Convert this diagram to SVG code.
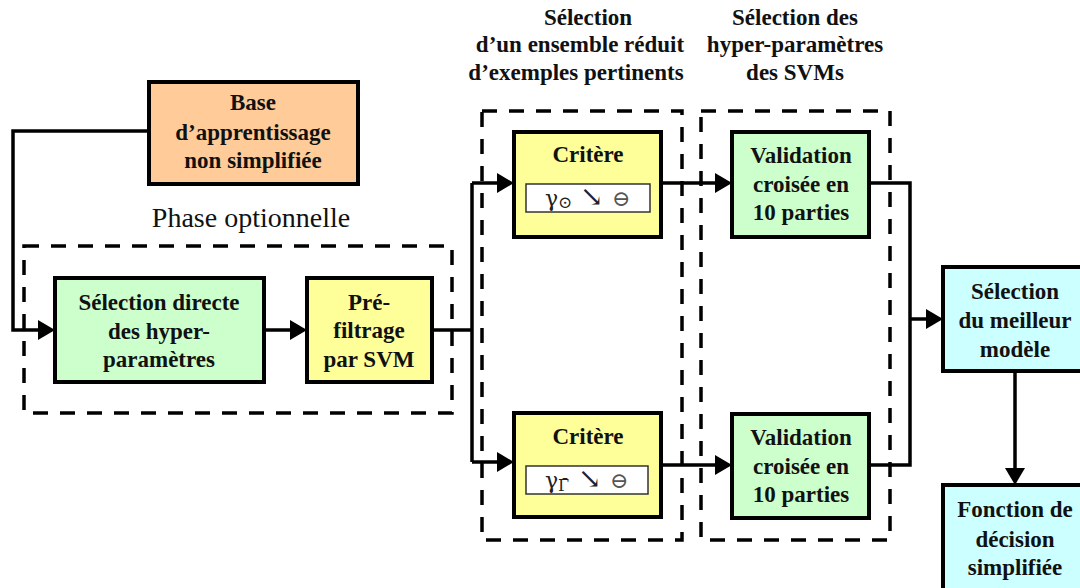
<svg xmlns="http://www.w3.org/2000/svg" width="1080" height="588" viewBox="0 0 1080 588">
<defs>
<style>
.box{stroke:#000;stroke-width:4}
.dash{fill:none;stroke:#000;stroke-width:3.5;stroke-dasharray:15 12}
.con{fill:none;stroke:#000;stroke-width:3.5}
.t{font-family:'Liberation Serif','Times New Roman',serif;font-size:23px;font-weight:bold;text-anchor:middle;fill:#111}
.p{font-family:'Liberation Serif','Times New Roman',serif;font-size:28px;text-anchor:middle;fill:#111}
.m{font-family:'DejaVu Serif','Liberation Serif',serif;font-size:22px;fill:#222}
</style>
</defs>
<rect width="1080" height="588" fill="#fff"/>

<g id="headers">
<text class="t" x="588" y="25">Sélection</text>
<text class="t" x="580" y="52">d’un ensemble réduit</text>
<text class="t" x="576" y="80">d’exemples pertinents</text>
<text class="t" x="795" y="25">Sélection des</text>
<text class="t" x="795" y="52">hyper-paramètres</text>
<text class="t" x="795" y="80">des SVMs</text>
<text class="p" x="251" y="227">Phase optionnelle</text>
</g>

<g id="groups">
<rect class="dash" x="24" y="246" width="428" height="167"/>
<rect class="dash" x="482" y="111" width="200" height="429"/>
<rect class="dash" x="701" y="111" width="189" height="429"/>
</g>

<g id="connectors">
<path class="con" d="M149,131 H13 V330 H38"/>
<path d="M38,320 L55,330 L38,340 z"/>
<path class="con" d="M264,330 H290"/>
<path d="M290,320 L307,330 L290,340 z"/>
<path class="con" d="M432,330 H472 M472,183 V462 M472,183 H497 M472,462 H497"/>
<path d="M497,173 L514,183 L497,193 z"/>
<path d="M497,452 L514,462 L497,472 z"/>
<path class="con" d="M661,183 H715 M661,465 H715"/>
<path d="M715,173 L732,183 L715,193 z"/>
<path d="M715,455 L732,465 L715,475 z"/>
<path class="con" d="M869,183 H910 V465 H869 M910,319 H926"/>
<path d="M926,309 L943,319 L926,329 z"/>
<path class="con" d="M1015,371 V468"/>
<path d="M1005,468 L1015,485 L1025,468 z"/>
</g>

<g id="base">
<rect class="box" x="149" y="82" width="209" height="102" fill="#FFCC99"/>
<text class="t" x="253" y="110">Base</text>
<text class="t" x="253" y="140">d’apprentissage</text>
<text class="t" x="253" y="168">non simplifiée</text>
</g>

<g id="selection-directe">
<rect class="box" x="55" y="278" width="209" height="104" fill="#CCFFCC"/>
<text class="t" x="159" y="310">Sélection directe</text>
<text class="t" x="159" y="339">des hyper-</text>
<text class="t" x="159" y="367">paramètres</text>
</g>

<g id="prefiltrage">
<rect class="box" x="307" y="278" width="125" height="104" fill="#FFFF99"/>
<text class="t" x="369" y="310">Pré-</text>
<text class="t" x="369" y="338">filtrage</text>
<text class="t" x="369" y="367">par SVM</text>
</g>

<g id="critere-1">
<rect class="box" x="514" y="132" width="147" height="105" fill="#FFFF99"/>
<text class="t" x="588" y="162">Critère</text>
<rect x="526" y="184" width="124" height="28" fill="#fff" stroke="#333" stroke-width="1.5"/>
<text class="m" y="206"><tspan x="545">γ</tspan><tspan x="558" font-size="17" dy="2">⊙</tspan><tspan x="580" dy="-2" font-size="28" font-weight="normal">↘</tspan><tspan x="612" fill="#555">⊖</tspan></text>
</g>

<g id="critere-2">
<rect class="box" x="514" y="413" width="147" height="104" fill="#FFFF99"/>
<text class="t" x="588" y="444">Critère</text>
<rect x="526" y="466" width="122" height="28" fill="#fff" stroke="#333" stroke-width="1.5"/>
<text class="m" y="488"><tspan x="545">γ</tspan><tspan x="558" font-size="16" dy="3">Γ̄</tspan><tspan x="578" dy="-3" font-size="28">↘</tspan><tspan x="610" fill="#555">⊖</tspan></text>
</g>

<g id="validation-1">
<rect class="box" x="732" y="132" width="137" height="105" fill="#CCFFCC"/>
<text class="t" x="801" y="163">Validation</text>
<text class="t" x="801" y="192">croisée en</text>
<text class="t" x="801" y="220">10 parties</text>
</g>

<g id="validation-2">
<rect class="box" x="732" y="414" width="137" height="104" fill="#CCFFCC"/>
<text class="t" x="801" y="445">Validation</text>
<text class="t" x="801" y="474">croisée en</text>
<text class="t" x="801" y="502">10 parties</text>
</g>

<g id="meilleur">
<rect class="box" x="943" y="267" width="150" height="104" fill="#CCFFFF"/>
<text class="t" x="1015" y="299">Sélection</text>
<text class="t" x="1015" y="328">du meilleur</text>
<text class="t" x="1015" y="357">modèle</text>
</g>

<g id="fonction">
<rect class="box" x="943" y="485" width="150" height="115" fill="#CCFFFF"/>
<text class="t" x="1015" y="517">Fonction de</text>
<text class="t" x="1015" y="547">décision</text>
<text class="t" x="1015" y="575">simplifiée</text>
</g>
</svg>
